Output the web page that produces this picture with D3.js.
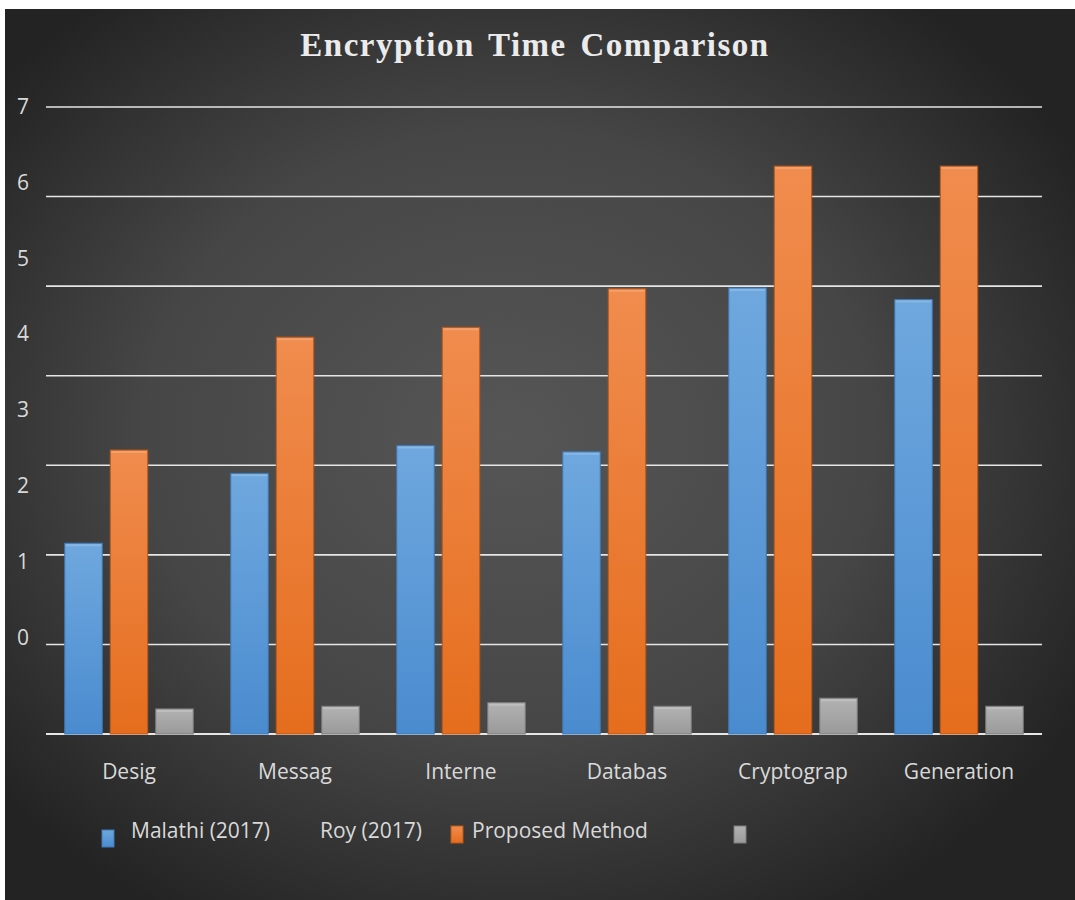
<!DOCTYPE html>
<html>
<head>
<meta charset="utf-8">
<script src="https://cdn.jsdelivr.net/npm/d3@7"></script>
<style>
  body { margin: 0; background: #fff; }
  svg { display: block; }
</style>
</head>
<body>
<div id="chart"></div>
<script>
// data
const categories = ["Desig", "Messag", "Interne", "Databas", "Cryptograp", "Generation"];
const seriesNames = ["Malathi (2017)", "Roy (2017)", "Proposed Method"];
const malathi = [2.13, 2.91, 3.22, 3.15, 4.98, 4.85];
const roy = [3.17, 4.43, 4.54, 4.97, 6.34, 6.34];
const proposed = [0.28, 0.31, 0.35, 0.31, 0.40, 0.31];
const gridValues = [0, 1, 2, 3, 4, 5, 6, 7];
const yTickLabels = ["7", "6", "5", "4", "3", "2", "1", "0"];
const chartTitle = "Encryption Time Comparison";

const seriesValues = [malathi, roy, proposed];
const colors = {
  "Malathi (2017)": ["#6fa8de", "#4a8bcf", "#3d78b8"],
  "Roy (2017)": ["#f08c4e", "#e56d1d", "#b8581a"],
  "Proposed Method": ["#b2b2b2", "#9a9a9a", "#7c7c7c"]
};

const width = 1075, height = 900;
const left = 46, right = 1042;

const svg = d3.select('#chart').append('svg')
  .attr('width', width)
  .attr('height', height);

const defs = svg.append('defs');

const bg = defs.append('radialGradient')
  .attr('id', 'bg')
  .attr('cx', 0.47).attr('cy', 0.48).attr('r', 0.62);
bg.append('stop').attr('offset', '0%').attr('stop-color', '#565656');
bg.append('stop').attr('offset', '55%').attr('stop-color', '#464646');
bg.append('stop').attr('offset', '100%').attr('stop-color', '#232323');

seriesNames.forEach(function (name, i) {
  const g = defs.append('linearGradient')
    .attr('id', 'bar' + i)
    .attr('x1', 0).attr('y1', 0).attr('x2', 0).attr('y2', 1);
  g.append('stop').attr('offset', '0%').attr('stop-color', colors[name][0]);
  g.append('stop').attr('offset', '100%').attr('stop-color', colors[name][1]);
});

svg.append('rect')
  .attr('x', 5).attr('y', 9)
  .attr('width', width - 5).attr('height', height - 9)
  .attr('fill', 'url(#bg)');

// scales
const x0 = d3.scaleBand().domain(categories).range([left, right])
  .paddingInner(0.226).paddingOuter(0.113);
const x1 = d3.scaleBand().domain(seriesNames).range([0, x0.bandwidth()])
  .paddingInner(0.176);
const y = d3.scaleLinear().domain([0, 7]).range([734, 107]);
// the tick labels in the source sit on their own spacing, not on the gridlines
const yLab = d3.scalePoint().domain(yTickLabels).range([106.5, 637.5]);

// gridlines
svg.append('g').selectAll('line')
  .data(gridValues)
  .join('line')
  .attr('x1', left).attr('x2', right)
  .attr('y1', d => y(d)).attr('y2', d => y(d))
  .attr('stroke', '#e6e6e6')
  .attr('stroke-width', d => d === 0 ? 2.2 : 1.6);

svg.append('g').selectAll('text')
  .data(yTickLabels)
  .join('text')
  .attr('x', 23)
  .attr('y', d => yLab(d))
  .attr('dy', '0.35em')
  .attr('text-anchor', 'middle')
  .attr('font-family', 'Open Sans, sans-serif')
  .attr('font-size', 21)
  .attr('fill', '#d9d9d9')
  .text(d => d);

// bars
const groups = svg.append('g').selectAll('g')
  .data(categories)
  .join('g')
  .attr('transform', d => 'translate(' + x0(d) + ',0)');

groups.selectAll('rect')
  .data((c, ci) => seriesNames.map((s, si) => ({ s: s, si: si, v: seriesValues[si][ci] })))
  .join('rect')
  .attr('x', d => x1(d.s))
  .attr('y', d => y(d.v))
  .attr('width', x1.bandwidth())
  .attr('height', d => y(0) - y(d.v))
  .attr('fill', d => 'url(#bar' + d.si + ')')
  .attr('stroke', d => colors[d.s][2])
  .attr('stroke-width', 1);

// top highlight of the bevel
groups.selectAll('line.hl')
  .data((c, ci) => seriesNames.map((s, si) => ({ s: s, si: si, v: seriesValues[si][ci] })))
  .join('line')
  .attr('class', 'hl')
  .attr('x1', d => x1(d.s) + 1).attr('x2', d => x1(d.s) + x1.bandwidth() - 1)
  .attr('y1', d => y(d.v) + 2).attr('y2', d => y(d.v) + 2)
  .attr('stroke', '#ffffff').attr('stroke-opacity', 0.18).attr('stroke-width', 2);

// category labels
svg.append('g').selectAll('text')
  .data(categories)
  .join('text')
  .attr('x', d => x0(d) + x0.bandwidth() / 2)
  .attr('y', 779)
  .attr('text-anchor', 'middle')
  .attr('font-family', 'Open Sans, sans-serif')
  .attr('font-size', 21)
  .attr('fill', '#d9d9d9')
  .text(d => d);

// title
svg.append('text')
  .attr('x', 535)
  .attr('y', 56)
  .attr('text-anchor', 'middle')
  .attr('font-family', 'Liberation Serif, serif')
  .attr('font-weight', 'bold')
  .attr('font-size', 33)
  .attr('letter-spacing', 1.5)
  .attr('word-spacing', 4)
  .attr('fill', '#ebebeb')
  .text(chartTitle);

// legend (swatches and names are offset from each other in the source)
const swatchX = [102, 451, 734];
const swatchY = [830, 826, 826];
const nameX = [131, 320, 472];
const legend = svg.append('g');
legend.selectAll('rect')
  .data(seriesNames)
  .join('rect')
  .attr('x', (d, i) => swatchX[i])
  .attr('y', (d, i) => swatchY[i])
  .attr('width', 12).attr('height', 17)
  .attr('fill', (d, i) => 'url(#bar' + i + ')')
  .attr('stroke', d => colors[d][2]);
legend.selectAll('text')
  .data(seriesNames)
  .join('text')
  .attr('x', (d, i) => nameX[i])
  .attr('y', 838)
  .attr('font-family', 'Open Sans, sans-serif')
  .attr('font-size', 21)
  .attr('fill', '#d9d9d9')
  .text(d => d);
</script>
</body>
</html>
